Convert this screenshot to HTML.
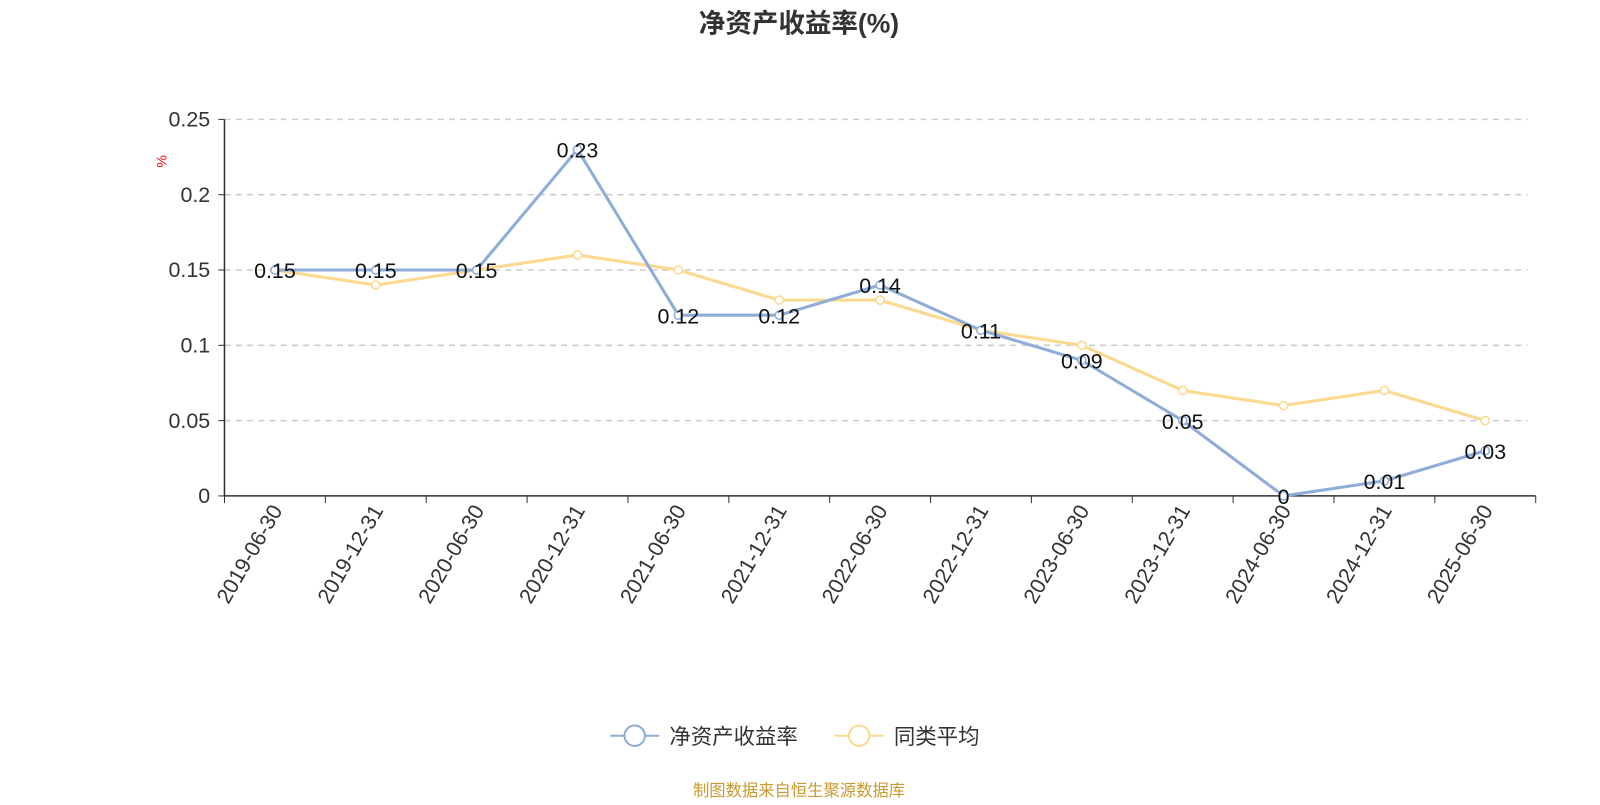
<!DOCTYPE html>
<html><head><meta charset="utf-8"><style>
body{margin:0;background:#fff;width:1600px;height:800px;overflow:hidden;font-family:"Liberation Sans","Noto Sans CJK SC",sans-serif}
</style></head><body>
<svg width="1600" height="800" viewBox="0 0 1568 784" id="chart" xmlns="http://www.w3.org/2000/svg" font-family="Liberation Sans, Noto Sans CJK SC, sans-serif">
<text x="783" y="32" text-anchor="middle" font-size="26" font-weight="bold" fill="#333">净资产收益率(%)</text>
<text x="0" y="0" transform="translate(163,158) rotate(-90)" text-anchor="middle" font-size="14" fill="red">%</text>
<g id="grid"></g><g id="axes"></g><g id="lines"></g><g id="labels"></g>
<g>
<g><line x1="598" y1="721" x2="646" y2="721" stroke="#8fadd9" stroke-width="2"/><circle cx="622" cy="721" r="10" fill="#fff" stroke="#8fadd9" stroke-width="2"/><text x="656" y="729" font-size="21" fill="#333">净资产收益率</text></g>
<g><line x1="818" y1="721" x2="866" y2="721" stroke="#fbd98f" stroke-width="2"/><circle cx="842" cy="721" r="10" fill="#fff" stroke="#fbd98f" stroke-width="2"/><text x="876" y="729" font-size="21" fill="#333">同类平均</text></g>
</g>
<text x="783" y="780" text-anchor="middle" font-size="16" fill="#c89a30">制图数据来自恒生聚源数据库</text>
</svg>
<script>
const categories=["2019-06-30","2019-12-31","2020-06-30","2020-12-31","2021-06-30","2021-12-31","2022-06-30","2022-12-31","2023-06-30","2023-12-31","2024-06-30","2024-12-31","2025-06-30"];
const roeValues=[0.15,0.15,0.15,0.23,0.12,0.12,0.14,0.11,0.09,0.05,0,0.01,0.03];
const avgValues=[0.15,0.14,0.15,0.16,0.15,0.13,0.13,0.11,0.10,0.07,0.06,0.07,0.05];
const yTicks=[0,0.05,0.1,0.15,0.2,0.25];
const yTickLabels=["0","0.05","0.1","0.15","0.2","0.25"];
const NS="http://www.w3.org/2000/svg";
const X0=220,X1=1505,Y0=486,Y1=117,YMAX=0.25;
const bw=(X1-X0)/categories.length;
const xs=i=>X0+bw*(i+0.5);
const ys=v=>Y0-(v/YMAX)*(Y0-Y1);
function mk(tag,attrs,parent){const e=document.createElementNS(NS,tag);for(const k in attrs)e.setAttribute(k,attrs[k]);document.getElementById(parent).appendChild(e);return e;}
yTicks.forEach((t,i)=>{
 if(t>0){const g=mk('line',{x1:X0,x2:X1-8,y1:ys(t),y2:ys(t),stroke:'#ccc','stroke-dasharray':'6,5','stroke-width':1.5},'grid');
 
 }
 const tk=mk('line',{x1:X0-6,x2:X0,y1:ys(t),y2:ys(t),stroke:'#333'},'axes');
 
 
 const l=mk('text',{x:X0-14,y:ys(t)+7,'text-anchor':'end','font-size':21,fill:'#333'},'axes');l.textContent=yTickLabels[i];
 
 
});
const ya=mk('line',{x1:X0,x2:X0,y1:Y1,y2:Y0,stroke:'#333','stroke-width':1.5},'axes');


const xa=mk('line',{x1:X0,x2:X1,y1:Y0,y2:Y0,stroke:'#333','stroke-width':1.5},'axes');


for(let i=0;i<=categories.length;i++){const t=mk('line',{x1:X0+bw*i,x2:X0+bw*i,y1:Y0,y2:Y0+7,stroke:'#333'},'axes');
 
 }
categories.forEach((c,i)=>{const t=mk('text',{x:0,y:0,transform:`translate(${xs(i)+8},${Y0+14}) rotate(-60)`,'text-anchor':'end','font-size':21,fill:'#333'},'axes');t.textContent=c;
 
 });
function series(vals,color,name){
 const p=mk('polyline',{points:vals.map((v,i)=>xs(i)+','+ys(v)).join(' '),fill:'none',stroke:color,'stroke-width':3},'lines');
 
 
 vals.forEach((v,i)=>{const c=mk('circle',{cx:xs(i),cy:ys(v),r:4,fill:'#fff',stroke:color,'stroke-width':1.5},'lines');
 
 });
}
series(avgValues,'#fbd98f','peer-average');
series(roeValues,'#8fadd9','roe');
roeValues.forEach((v,i)=>{const t=mk('text',{x:xs(i),y:ys(v)+8,'text-anchor':'middle','font-size':21,fill:'#111'},'labels');t.textContent=String(v);
 
 });
</script>
</body></html>
